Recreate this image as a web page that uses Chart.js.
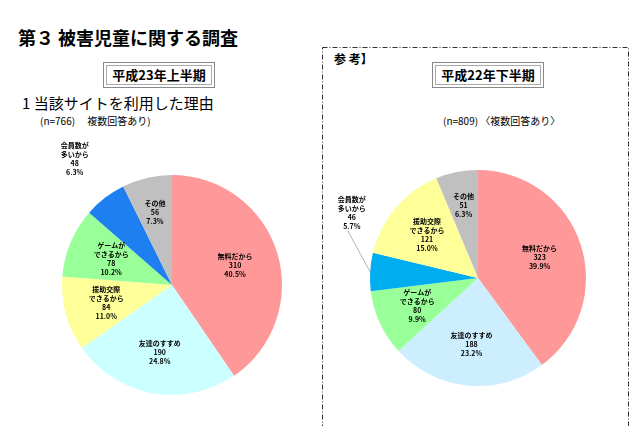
<!DOCTYPE html>
<html><head><meta charset="utf-8">
<script src="https://cdn.jsdelivr.net/npm/chart.js@4"></script>
<style>
body{margin:0;width:640px;height:426px;background:#fff;font-family:"Noto Sans CJK JP",sans-serif;position:relative;overflow:hidden}
.a{position:absolute;white-space:nowrap;color:#000}
.box{position:absolute;border:1px solid #888;box-shadow:inset 0 0 0 2px #fff,inset 0 0 0 3px #aaa;font-weight:bold;font-size:13px;text-align:center}
canvas{position:absolute}
</style></head><body>
<div class="a" style="left:18px;top:24px;font-size:18px;font-weight:bold">第３ 被害児童に関する調査</div>
<div class="box" style="left:103px;top:62px;width:110px;height:24px;line-height:24px">平成23年上半期</div>
<div class="a" style="left:22px;top:92px;font-size:15px">1 当該サイトを利用した理由</div>
<div class="a" style="left:40px;top:113px;font-size:10px">(n=766)　 複数回答あり)</div>
<svg style="position:absolute;left:0;top:0" width="640" height="426"><rect x="322.5" y="47.5" width="306" height="400" fill="none" stroke="#333" stroke-width="1" stroke-dasharray="5,2,1,2"/></svg>
<div class="a" style="left:334px;top:50px;font-size:12px;font-weight:bold">参 考】</div>
<div class="box" style="left:432px;top:62px;width:110px;height:24px;line-height:24px">平成22年下半期</div>
<div class="a" style="left:443px;top:113px;font-size:10px">(n=809) 〈複数回答あり〉</div>
<canvas id="c1" width="300" height="300" style="left:22px;top:135px"></canvas>
<canvas id="c2" width="300" height="300" style="left:328px;top:128px"></canvas>
<script>
const leftLabels=[["無料だから"],["友達のすすめ"],["援助交際","できるから"],["ゲームが","できるから"],["会員数が","多いから"],["その他"]];
const leftValues=[310,190,84,78,48,56];
const leftPct=["40.5%","24.8%","11.0%","10.2%","6.3%","7.3%"];
const leftColors=["#FF9999","#CCFFFF","#FFFF99","#99FF99","#1E80F0","#C0C0C0"];
const rightLabels=[["無料だから"],["友達のすすめ"],["ゲームが","できるから"],["会員数が","多いから"],["援助交際","できるから"],["その他"]];
const rightValues=[323,188,80,46,121,51];
const rightPct=["39.9%","23.2%","9.9%","5.7%","15.0%","6.3%"];
const rightColors=["#FF9999","#CCEEFF","#99FF99","#00AEEF","#FFFF99","#C0C0C0"];

const labelPlugin={id:'lbl',afterDatasetsDraw(ch,args,opt){
  const ctx=ch.ctx,ds=ch.data.datasets[0],meta=ch.getDatasetMeta(0);
  ctx.save();ctx.font='bold 7px "Noto Sans CJK JP"';ctx.textAlign='center';ctx.fillStyle='#000';
  meta.data.forEach((arc,i)=>{
    const p=arc.getProps(['x','y','startAngle','endAngle','outerRadius']);
    const mid=(p.startAngle+p.endAngle)/2;
    const out=i===opt.out.idx;
    const r=p.outerRadius*(out?opt.out.rf:(opt.rf[i]||0.6));
    let x=p.x+Math.cos(mid)*r, y=p.y+Math.sin(mid)*r;
    const lines=[...ch.data.labels[i],String(ds.data[i]),opt.pct[i]];
    const h=lines.length*9;
    if(out){y+=opt.out.dy;
      if(opt.out.line){ctx.strokeStyle='#666';ctx.lineWidth=0.5;ctx.beginPath();
      ctx.moveTo(p.x+Math.cos(mid)*p.outerRadius,p.y+Math.sin(mid)*p.outerRadius);
      ctx.lineTo(x-4,y+h/2);ctx.stroke();}}
    lines.forEach((t,k)=>ctx.fillText(t,x,y-h/2+k*9+7));
  });
  ctx.restore();}};
function make(id,labels,values,colors,pct,out,rf,pad){
  new Chart(document.getElementById(id),{type:'pie',
    data:{labels:labels,datasets:[{data:values,backgroundColor:colors,borderWidth:0}]},
    options:{responsive:false,animation:false,layout:{padding:pad},
      plugins:{legend:{display:false},tooltip:{enabled:false},lbl:{pct:pct,out:out,rf:rf}}},
    plugins:[labelPlugin]});
}
make('c1',leftLabels,leftValues,leftColors,leftPct,{idx:4,rf:1.45,dy:0,line:false},[0.6,0.62,0.62,0.6,0.75,0.68],40);
make('c2',rightLabels,rightValues,rightColors,rightPct,{idx:3,rf:1.17,dy:-58,line:true},[0.6,0.62,0.62,0.6,0.62,0.68],42);
</script>
</body></html>
